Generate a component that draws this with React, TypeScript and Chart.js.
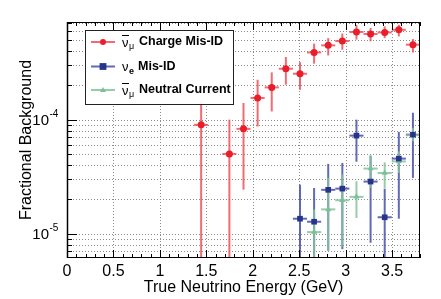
import React, { useEffect, useRef } from 'react';
import { Chart, registerables } from 'chart.js';

Chart.register(...registerables);

// ---------- data ----------
const chargeEnergy = [1.444, 1.748, 1.900, 2.052, 2.204, 2.356, 2.508, 2.660, 2.812, 2.964, 3.116, 3.268, 3.420, 3.572, 3.724];
const chargeValue = [9.0e-5, 5.0e-5, 8.3e-5, 1.55e-4, 1.92e-4, 2.8e-4, 2.53e-4, 3.89e-4, 4.49e-4, 4.9e-4, 5.88e-4, 5.65e-4, 5.83e-4, 6.15e-4, 4.55e-4];
const chargeLow = [1e-6, 1e-6, 2.43e-5, 8.7e-5, 1.18e-4, 2.03e-4, 1.83e-4, 3.1e-4, 3.66e-4, 4.11e-4, 5.04e-4, 4.87e-4, 5.2e-4, 5.38e-4, 3.89e-4];
const chargeHigh = [1.9e-4, 1.0e-4, 1.4e-4, 2.24e-4, 2.6e-4, 3.55e-4, 3.2e-4, 4.65e-4, 5.2e-4, 5.7e-4, 6.8e-4, 6.37e-4, 6.58e-4, 6.8e-4, 5.1e-4];

const nueEnergy = [2.508, 2.660, 2.812, 2.964, 3.116, 3.268, 3.420, 3.572, 3.724];
const nueValue = [1.35e-5, 1.27e-5, 2.42e-5, 2.48e-5, 7.24e-5, 2.86e-5, 1.39e-5, 4.55e-5, 7.38e-5];
const nueLow = [1e-6, 1e-6, 7.1e-6, 7.3e-6, 4.27e-5, 8.3e-6, 1e-6, 1.35e-5, 3.08e-5];
const nueHigh = [2.69e-5, 2.51e-5, 4.09e-5, 4.17e-5, 1.0e-4, 4.83e-5, 2.48e-5, 7.8e-5, 1.15e-4];

const ncEnergy = [2.660, 2.812, 2.964, 3.116, 3.268, 3.420, 3.572, 3.724];
const ncValue = [1.03e-5, 1.63e-5, 1.96e-5, 2.1e-5, 3.72e-5, 3.4e-5, 4.3e-5, 7.3e-5];
const ncLow = [1e-6, 7.0e-6, 7.7e-6, 1.37e-5, 2.51e-5, 2.51e-5, 3.4e-5, 6.45e-5];
const ncHigh = [1.63e-5, 3.08e-5, 3.3e-5, 2.88e-5, 4.83e-5, 4.22e-5, 5.27e-5, 8.45e-5];

const binHalfWidth = 0.076;

const xMin = 0;
const xMax = 3.8;
const yMin = 6.1e-6;
const yMax = 7.2e-4;

const xTickLabels = ['0', '0.5', '1', '1.5', '2', '2.5', '3', '3.5'];
const xTickValues = [0, 0.5, 1, 1.5, 2, 2.5, 3, 3.5];
const yDecades = [1e-6, 1e-5, 1e-4];
const yLabelValues = [1e-5, 1e-4];
const yLabelExponents = ['-5', '-4'];

const xTitle = 'True Neutrino Energy (GeV)';
const yTitle = 'Fractional Background';

const FONT = '"Liberation Sans", Arial, Helvetica, sans-serif';

type Series = {
  xs: number[]; ys: number[]; lo: number[]; hi: number[];
  marker: string; bar: string; style: string; r: number;
};

const seriesList: Series[] = [
  { xs: chargeEnergy, ys: chargeValue, lo: chargeLow, hi: chargeHigh, marker: '#ea1d2a', bar: 'rgba(236,70,80,0.8)', style: 'circle', r: 3.5 },
  { xs: nueEnergy, ys: nueValue, lo: nueLow, hi: nueHigh, marker: '#27348b', bar: 'rgba(70,80,170,0.85)', style: 'rect', r: 4 },
  { xs: ncEnergy, ys: ncValue, lo: ncLow, hi: ncHigh, marker: '#7fbf98', bar: 'rgba(130,195,155,0.85)', style: 'triangle', r: 3.5 },
];

function drawMarker(ctx: CanvasRenderingContext2D, style: string, x: number, y: number, r: number, color: string) {
  ctx.fillStyle = color;
  ctx.beginPath();
  if (style === 'circle') {
    ctx.arc(x, y, r, 0, Math.PI * 2);
  } else if (style === 'rect') {
    ctx.rect(x - r, y - r, 2 * r, 2 * r);
  } else {
    ctx.moveTo(x, y - r);
    ctx.lineTo(x + r, y + r * 0.7);
    ctx.lineTo(x - r, y + r * 0.7);
    ctx.closePath();
  }
  ctx.fill();
}

export default function App() {
  const ref = useRef<HTMLCanvasElement>(null);

  useEffect(() => {
    document.body.style.margin = '0';
    const canvas = ref.current!;

    const plugin = {
      id: 'rootStyle',
      beforeDatasetsDraw(chart: any) {
        const { ctx, chartArea: a, scales } = chart;
        const x = scales.x, y = scales.y;
        ctx.save();
        // grid
        ctx.strokeStyle = '#8c8c8c';
        ctx.lineWidth = 1;
        ctx.setLineDash([1, 2]);
        for (const t of xTickValues) {
          const px = Math.round(x.getPixelForValue(t)) + 0.5;
          if (px <= a.left + 1 || px >= a.right - 1) continue;
          ctx.beginPath(); ctx.moveTo(px, a.top); ctx.lineTo(px, a.bottom); ctx.stroke();
        }
        for (const d of yDecades) {
          for (let m = 1; m <= 9; m++) {
            const v = d * m;
            if (v <= yMin || v >= yMax) continue;
            const py = Math.round(y.getPixelForValue(v)) + 0.5;
            ctx.beginPath(); ctx.moveTo(a.left, py); ctx.lineTo(a.right, py); ctx.stroke();
          }
        }
        ctx.setLineDash([]);
        // error bars
        ctx.beginPath();
        ctx.rect(a.left, a.top, a.right - a.left, a.bottom - a.top);
        ctx.clip();
        ctx.lineWidth = 2;
        for (const s of seriesList) {
          ctx.strokeStyle = s.bar;
          for (let i = 0; i < s.xs.length; i++) {
            const px = x.getPixelForValue(s.xs[i]);
            const py = y.getPixelForValue(s.ys[i]);
            const pLo = Math.min(y.getPixelForValue(Math.max(s.lo[i], 1e-7)), a.bottom + 5);
            const pHi = y.getPixelForValue(s.hi[i]);
            ctx.beginPath(); ctx.moveTo(px, pLo); ctx.lineTo(px, pHi); ctx.stroke();
            const xl = x.getPixelForValue(s.xs[i] - binHalfWidth);
            const xr = x.getPixelForValue(s.xs[i] + binHalfWidth);
            ctx.beginPath(); ctx.moveTo(xl, py); ctx.lineTo(xr, py); ctx.stroke();
          }
        }
        ctx.restore();
      },
      afterDatasetsDraw(chart: any) {
        const { ctx, chartArea: a, scales } = chart;
        const x = scales.x, y = scales.y;
        ctx.save();
        // ticks
        ctx.strokeStyle = '#000';
        ctx.lineWidth = 1;
        for (let k = 0; k <= 38; k++) {
          const v = k / 10;
          if (v > xMax) break;
          const px = Math.round(x.getPixelForValue(v)) + 0.5;
          const major = k % 5 === 0;
          const len = major ? 8 : 4;
          ctx.beginPath(); ctx.moveTo(px, a.bottom); ctx.lineTo(px, a.bottom - len); ctx.stroke();
          ctx.beginPath(); ctx.moveTo(px, a.top); ctx.lineTo(px, a.top + len); ctx.stroke();
        }
        for (const d of yDecades) {
          for (let m = 1; m <= 9; m++) {
            const v = d * m;
            if (v <= yMin || v >= yMax) continue;
            const py = Math.round(y.getPixelForValue(v)) + 0.5;
            const len = m === 1 ? 10 : 5;
            ctx.beginPath(); ctx.moveTo(a.left, py); ctx.lineTo(a.left + len, py); ctx.stroke();
          }
        }
        // frame
        ctx.strokeStyle = '#000';
        ctx.lineWidth = 1;
        ctx.strokeRect(a.left + 0.5, a.top + 0.5, a.right - a.left - 1, a.bottom - a.top - 1);
        ctx.beginPath(); ctx.moveTo(a.left + 0.5, a.top); ctx.lineTo(a.left + 0.5, a.bottom); ctx.lineWidth = 1.5; ctx.stroke();

        // tick labels
        ctx.fillStyle = '#000';
        ctx.font = `16px ${FONT}`;
        ctx.textAlign = 'center';
        ctx.textBaseline = 'middle';
        xTickValues.forEach((t, i) => {
          ctx.fillText(xTickLabels[i], x.getPixelForValue(t), a.bottom + 14);
        });
        yLabelValues.forEach((v, i) => {
          const py = y.getPixelForValue(v);
          ctx.font = `15px ${FONT}`;
          ctx.textAlign = 'right';
          ctx.fillText('10', 49, py + 1);
          ctx.font = `10px ${FONT}`;
          ctx.textAlign = 'left';
          ctx.fillText(yLabelExponents[i], 49.5, py - 5);
        });

        // titles
        ctx.font = `16px ${FONT}`;
        ctx.textAlign = 'center';
        ctx.textBaseline = 'middle';
        ctx.fillText(xTitle, (a.left + a.right) / 2, 288);
        ctx.save();
        ctx.translate(27, (a.top + a.bottom) / 2);
        ctx.rotate(-Math.PI / 2);
        ctx.fillText(yTitle, 0, 0);
        ctx.restore();

        // legend
        const bx = 85, by = 30, bw = 148, bh = 74;
        ctx.fillStyle = '#fff';
        ctx.fillRect(bx, by, bw, bh);
        ctx.strokeStyle = '#222';
        ctx.lineWidth = 1;
        ctx.strokeRect(bx + 0.5, by + 0.5, bw, bh);
        const rows = [
          { yy: 42, sub: 'μ', bar: true, text: 'Charge Mis-ID', tx: 139 },
          { yy: 66.5, sub: 'e', bar: false, text: 'Mis-ID', tx: 138 },
          { yy: 90, sub: 'μ', bar: true, text: 'Neutral Current', tx: 139 },
        ];
        rows.forEach((row, i) => {
          const s = seriesList[i];
          ctx.strokeStyle = s.bar;
          ctx.lineWidth = 2;
          ctx.beginPath(); ctx.moveTo(91, row.yy); ctx.lineTo(115, row.yy); ctx.stroke();
          drawMarker(ctx, s.style, 103, row.yy, s.r * 0.85, s.marker);
          ctx.fillStyle = '#000';
          ctx.textAlign = 'left';
          ctx.textBaseline = 'middle';
          ctx.font = `13px ${FONT}`;
          ctx.fillText('ν', 122, row.yy + 1);
          if (row.bar) {
            ctx.strokeStyle = '#000';
            ctx.lineWidth = 1;
            ctx.beginPath(); ctx.moveTo(122, row.yy - 6.5); ctx.lineTo(129, row.yy - 6.5); ctx.stroke();
          }
          ctx.font = row.bar ? `9px ${FONT}` : `bold 9px ${FONT}`;
          ctx.fillText(row.sub, 129, row.yy + 5);
          ctx.font = `bold 12.5px ${FONT}`;
          ctx.fillText(row.text, row.tx, row.yy);
        });
        ctx.restore();
      },
    };

    const chart = new Chart(canvas, {
      type: 'scatter',
      data: {
        datasets: seriesList.map((s) => ({
          data: s.xs.map((e, i) => ({ x: e, y: s.ys[i] })),
          pointStyle: s.style as any,
          pointRadius: s.r,
          pointBackgroundColor: s.marker,
          pointBorderColor: s.marker,
          pointBorderWidth: 0,
          showLine: false,
        })),
      },
      options: {
        responsive: false,
        animation: false,
        devicePixelRatio: 1,
        layout: { padding: { left: 67, right: 21, top: 22, bottom: 41 } },
        plugins: { legend: { display: false }, tooltip: { enabled: false } },
        scales: {
          x: { type: 'linear', min: xMin, max: xMax, display: false },
          y: { type: 'logarithmic', min: yMin, max: yMax, display: false },
        },
      },
      plugins: [plugin],
    });
    return () => chart.destroy();
  }, []);

  return (
    <div style={{ width: 441, height: 299, background: '#fff' }}>
      <canvas ref={ref} width={441} height={299} style={{ display: 'block' }} />
    </div>
  );
}
